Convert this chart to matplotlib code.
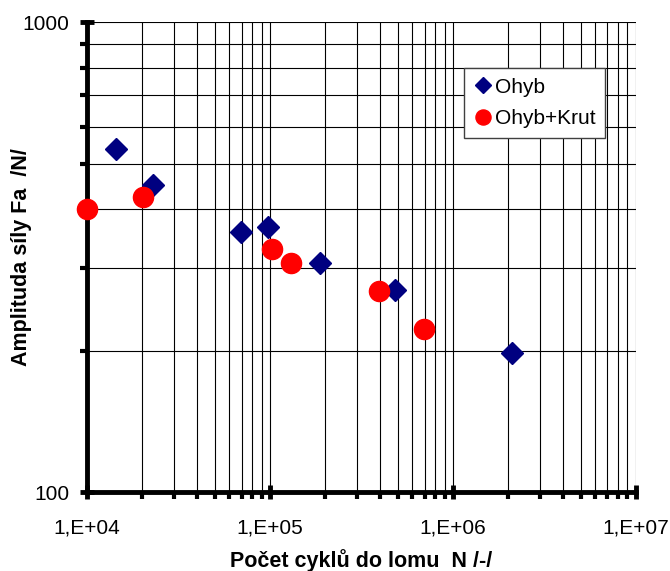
import matplotlib.pyplot as plt
import numpy as np
from matplotlib.ticker import FixedLocator, FuncFormatter, NullFormatter

plt.rcParams['font.family'] = ['Liberation Sans', 'DejaVu Sans']

# Ohyb (bending)
ohyb_n = [14400, 22900, 69500, 97500, 187000, 482000, 2100000]
ohyb_f = [537, 450, 357, 366, 307, 269, 198]

# Ohyb+Krut (bending + torsion)
krut_n = [10000, 20200, 102600, 130000, 394000, 695000]
krut_f = [400, 425, 330, 307, 268, 222]

x_ticks = [1e4, 1e5, 1e6, 1e7]
y_ticks = [100, 1000]

fig = plt.figure(figsize=(6.7, 5.71), dpi=100)
ax = fig.add_axes([0.130, 0.138, 0.819, 0.823])

ax.set_xscale('log')
ax.set_yscale('log')
ax.set_xlim(1e4, 1e7)
ax.set_ylim(100, 1000)

# grid on every minor position, like the excel original
x_minor = [m * 10**e for e in range(4, 7) for m in range(2, 10)]
y_minor = list(range(200, 1000, 100))
ax.xaxis.set_major_locator(FixedLocator(x_ticks))
ax.xaxis.set_minor_locator(FixedLocator(x_minor))
ax.yaxis.set_major_locator(FixedLocator(y_ticks))
ax.yaxis.set_minor_locator(FixedLocator(y_minor))
ax.grid(True, which='both', color='black', linewidth=0.8)
ax.set_axisbelow(True)

ax.xaxis.set_major_formatter(FuncFormatter(lambda v, p: '1,E+%02d' % round(np.log10(v))))
ax.xaxis.set_minor_formatter(NullFormatter())
ax.yaxis.set_major_formatter(FuncFormatter(lambda v, p: '%d' % v))
ax.yaxis.set_minor_formatter(NullFormatter())

ax.tick_params(which='major', direction='inout', length=10, width=3.5, labelsize=15, pad=8)
ax.tick_params(which='minor', direction='out', length=5, width=3)
ax.tick_params(axis='x', which='major', pad=14)

for s in ['top', 'right']:
    ax.spines[s].set_visible(False)
for s in ['left', 'bottom']:
    ax.spines[s].set_linewidth(3.5)

ax.plot(ohyb_n, ohyb_f, linestyle='none', marker='D', markersize=11,
        color='#000080', label='Ohyb', clip_on=False, zorder=3)
ax.plot(krut_n, krut_f, linestyle='none', marker='o', markersize=14.5,
        color='#FF0000', label='Ohyb+Krut', clip_on=False, zorder=4)

leg = ax.legend(loc='upper left', bbox_to_anchor=(0.687, 0.902), fontsize=15,
                frameon=True, fancybox=False, framealpha=1, edgecolor='#404040',
                handletextpad=0.15, handlelength=0.9, borderpad=0.45,
                labelspacing=0.6, markerscale=0.75, borderaxespad=0)
leg.get_frame().set_linewidth(1)

ax.set_xlabel('Počet cyklů do lomu  N /-/', fontsize=15.5, fontweight='bold', va='baseline')
ax.set_ylabel('Amplituda síly Fa  /N/', fontsize=15.5, fontweight='bold')
ax.xaxis.set_label_coords(0.5, -0.16)
ax.yaxis.set_label_coords(-0.100, 0.5)

fig.savefig('out.png', dpi=100)
